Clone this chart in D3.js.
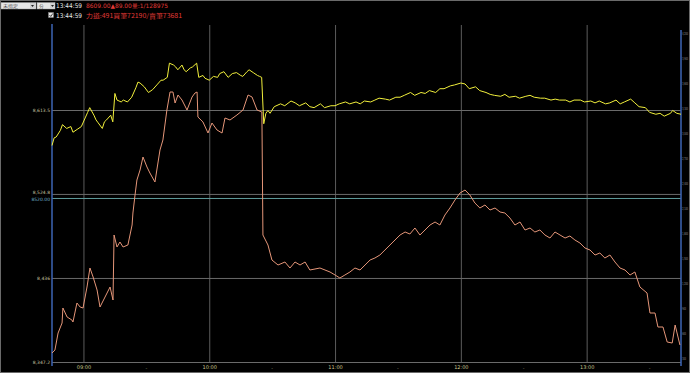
<!DOCTYPE html>
<html>
<head>
<meta charset="utf-8">
<script src="https://cdn.jsdelivr.net/npm/d3@7"></script>
<style>
  body { margin: 0; background: #000; overflow: hidden; }
  svg { display: block; }
</style>
</head>
<body>
<script>
const w = 690
const h = 373

// minutes after 08:45 and futures price (yellow line, left axis)
const priceMin = [0,1,2,4,5,7,9,10,12,14,16,17,18,20,21,22,24,25,26,28,29,30,31,32,33,34,36,38,40,41,
  42,44,46,48,50,52,53,55,56,58,59,60,62,63,64,66,67,69,70,72,73,75,77,79,80,82,84,86,88,90,
  91,93,94,96,98,99,100,101,102,103,104,106,109,111,114,116,118,121,123,125,128,130,133,135,137,140,142,145,147,149,
  152,154,156,159,161,164,166,168,171,173,176,178,180,183,185,187,190,192,195,197,199,202,204,207,209,211,214,216,218,221,
  223,226,228,230,233,235,238,240,242,245,247,249,252,254,257,259,261,264,266,269,271,273,276,278,280,283,285,288,290,292,
  295,296,298,300]
const price = [8576,8584,8585,8592,8598,8594,8596,8590,8593,8596,8606,8611,8616,8608,8603,8600,8594,8601,8603,8608,
  8601,8631,8624,8623,8622,8624,8622,8627,8637,8643,8642,8638,8632,8635,8640,8645,8645,8648,8663,8661,
  8659,8656,8661,8656,8654,8658,8659,8663,8648,8650,8647,8645,8649,8648,8652,8654,8648,8652,8653,8650,
  8649,8654,8656,8653,8650,8649,8648,8599,8610,8613,8610,8617,8620,8618,8623,8621,8618,8621,8617,8616,
  8620,8616,8618,8618,8620,8622,8620,8622,8620,8623,8622,8624,8626,8625,8624,8627,8627,8629,8632,8629,
  8632,8631,8634,8632,8636,8636,8639,8640,8642,8641,8636,8638,8634,8632,8630,8629,8628,8630,8627,8628,
  8626,8628,8629,8627,8626,8626,8624,8625,8624,8624,8622,8624,8624,8622,8623,8621,8623,8620,8621,8624,
  8620,8622,8625,8621,8617,8616,8611,8609,8610,8607,8610,8613,8610,8609]

// minutes after 08:45 and force value (salmon line, right axis)
const forceMin = [0,1.4,2.9,4.8,5.2,7.2,9.5,10,11.9,13.4,14.8,16.7,18.1,19.6,21.5,22.9,25.3,27.7,29.1,29.6,
  31,32.4,33.9,36.2,38.2,38.6,39.6,40.5,42,43.4,45.3,46.7,49.1,51.5,52.9,54.8,56.3,57.7,58.7,60.1,
  62,64.4,66.8,68.2,69.2,69.6,72,74.4,76.3,78.7,81.1,82.5,84.9,88.2,91.1,93.5,95.4,97.8,100.1,100.6,
  103,104.9,107.8,111.1,113.5,115.9,118.3,120.7,123,127.8,132.6,135,137.3,139.7,142.1,144.5,146.9,149.3,151.7,154,
  156.4,158.8,161.2,163.6,166,168.4,170.7,173.1,175.5,177.9,180.3,182.7,185,187.4,189.8,192.2,194.6,197,199.3,201.7,
  204.1,206.5,208.9,211.3,213.7,216,218.4,220.8,223.2,225.6,228,230.3,232.7,235.1,237.5,239.9,242.3,244.7,247,249.4,
  251.8,254.2,256.6,259,261.3,263.7,266.1,268.5,270.9,273.3,275.7,278,280.4,283.8,285.2,287.6,289,291.4,293.4,295.8,
  297.2,298,299.5]
const force = [360,396,600,720,900,792,756,732,960,912,900,1152,1380,1272,1116,912,1032,1152,996,1776,
  1632,1692,1632,1656,1896,2040,2256,2436,2556,2712,2592,2520,2412,2796,2916,3276,3492,3492,3360,3456,
  3396,3276,3432,3480,3492,3192,3132,3000,3120,3036,3000,3180,3156,3216,3276,3456,3432,3276,3252,1776,
  1656,1476,1416,1452,1380,1452,1416,1452,1356,1380,1332,1296,1260,1296,1332,1380,1356,1416,1476,1500,
  1536,1596,1656,1716,1776,1812,1788,1860,1776,1836,1896,1932,1896,2016,2100,2196,2280,2316,2256,2160,
  2100,2136,2076,2100,2052,2040,1980,1896,1932,1836,1860,1812,1836,1776,1740,1812,1776,1740,1764,1716,
  1680,1620,1596,1536,1560,1500,1536,1452,1380,1356,1296,1332,1152,1080,840,840,672,672,492,480,
  696,612,456]

const leftTicks = [8613.5, 8524.8, 8436.0, 8347.2]
const leftLabels = ['8,613.5', '8,524.8', '8,436', '8,347.2']
const refPrice = 8520
const refLabel = '8520.00'
const rightTicks = [4200, 3900, 3600, 3300, 3000, 2700, 2400, 2100, 1800, 1500, 1200, 900, 600, 300]
const hourTicks = ['09:00', '10:00', '11:00', '12:00', '13:00']
const halfTicks = ['09:30', '10:30', '11:30', '12:30', '13:30']
const sessionStart = '08:45'
const sessionEnd = '13:45'

const headTime = '13:44:59'
const headQuote = '8609.00▲89.00量:1/128975'
const headForce = '力道:491買筆72190/賣筆73681'

const toDate = s => { const [H, M] = s.split(':'); return new Date(2020, 0, 2, +H, +M) }
const t0 = toDate(sessionStart)
const byMin = m => new Date(t0.getTime() + m * 60000)

const pl = 52, pr = 681, pt = 25, pb = 362
const font = '"DejaVu Sans", sans-serif'

const x = d3.scaleTime().domain([t0, toDate(sessionEnd)]).range([pl, pr])
const yL = d3.scaleLinear().domain([8347.2, 8613.5]).range([pb, 110])
const yR = d3.scaleLinear().domain([300, 4200]).range([358, 33])

const svg = d3.select('body').append('svg').attr('width', w).attr('height', h)
svg.append('rect').attr('width', w).attr('height', h).attr('fill', '#000')

// time axis + vertical grid
const bAxis = d3.axisBottom(x).tickValues(hourTicks.map(toDate))
  .tickFormat(d3.timeFormat('%H:%M')).tickSize(-(pb - pt)).tickPadding(3)
const gb = svg.append('g').attr('transform', 'translate(0,' + pb + ')').call(bAxis)
gb.select('.domain').remove()
gb.selectAll('line').attr('stroke', '#5c5c5c')
gb.selectAll('text').attr('fill', '#c9c58e').style('font', '5px ' + font)

svg.append('g').selectAll('text').data(halfTicks).enter().append('text')
  .attr('x', d => x(toDate(d))).attr('y', 369.5).attr('text-anchor', 'middle')
  .attr('fill', '#8a8a70').style('font', '5px ' + font).text('-')

// price axis + horizontal grid
const lAxis = d3.axisLeft(yL).tickValues(leftTicks)
  .tickFormat((d, i) => leftLabels[i]).tickSize(-(pr - pl)).tickPadding(2)
const gl = svg.append('g').attr('transform', 'translate(' + pl + ',0)').call(lAxis)
gl.select('.domain').remove()
gl.selectAll('line').attr('stroke', '#6a6a6a')
gl.selectAll('text').attr('fill', '#c8c6a0').style('font', '4.5px ' + font)
gl.selectAll('.tick text').filter((d, i) => i === 1).attr('dy', '-0.1em')

// reference price
svg.append('line').attr('x1', pl).attr('x2', pr)
  .attr('y1', yL(refPrice)).attr('y2', yL(refPrice)).attr('stroke', '#5f9c9c')
svg.append('text').attr('x', pl - 2).attr('y', yL(refPrice) + 2.2).attr('text-anchor', 'end')
  .attr('fill', '#6fb0c8').style('font', '4.5px ' + font).text(refLabel)

// right axis (labels squeezed into the narrow strip)
const rAxis = d3.axisRight(yR).tickValues(rightTicks).tickSize(0).tickPadding(0)
const gr = svg.append('g').attr('transform', 'translate(' + pr + ',0)').call(rAxis)
gr.select('.domain').remove()
gr.selectAll('text').attr('x', 0).attr('fill', '#9a9a9a').style('font', '4px ' + font)
  .attr('transform', 'translate(1.3,0) scale(0.5,1)')

// axis bars
svg.append('line').attr('x1', pl).attr('x2', pl).attr('y1', 24).attr('y2', 366)
  .attr('stroke', '#3c64b4').attr('stroke-width', 1.5)
svg.append('line').attr('x1', pr).attr('x2', pr).attr('y1', 30).attr('y2', 366)
  .attr('stroke', '#3c64b4').attr('stroke-width', 1.5)

// series
const forceLine = d3.line().x((d, i) => x(byMin(forceMin[i]))).y(d => yR(d))
svg.append('path').datum(force).attr('d', forceLine)
  .attr('fill', 'none').attr('stroke', '#e59679').attr('stroke-width', 1)

const priceLine = d3.line().x((d, i) => x(byMin(priceMin[i]))).y(d => yL(d))
svg.append('path').datum(price).attr('d', priceLine)
  .attr('fill', 'none').attr('stroke', '#f2f03c').attr('stroke-width', 1)

// header bar
const head = svg.append('g')
head.append('rect').attr('x', 1).attr('y', 2.5).attr('width', 35).attr('height', 6.5)
  .attr('fill', '#e6e6e6').attr('stroke', '#9a9a9a').attr('stroke-width', 0.5)
head.append('text').attr('x', 3).attr('y', 7.6).attr('fill', '#444').style('font', '4.5px ' + font).text('未指定')
head.append('rect').attr('x', 37).attr('y', 2.5).attr('width', 18).attr('height', 6.5)
  .attr('fill', '#e6e6e6').attr('stroke', '#9a9a9a').attr('stroke-width', 0.5)
head.append('text').attr('x', 39).attr('y', 7.6).attr('fill', '#444').style('font', '4.5px ' + font).text('分')
;[30, 50].forEach(bx => {
  head.append('rect').attr('x', bx).attr('y', 3).attr('width', 5).attr('height', 5.5).attr('fill', '#d0d0d0')
  head.append('path').attr('d', `M${bx + 1},5 L${bx + 4},5 L${bx + 2.5},7 Z`).attr('fill', '#222')
})
head.append('text').attr('x', 56).attr('y', 8.4).attr('fill', '#e8e8e8')
  .attr('textLength', 26).attr('lengthAdjust', 'spacingAndGlyphs').style('font', '6.5px ' + font).text(headTime)
head.append('text').attr('x', 86).attr('y', 8.4).attr('fill', '#e23a36')
  .attr('textLength', 82).attr('lengthAdjust', 'spacingAndGlyphs').style('font', '6px ' + font).text(headQuote)

head.append('rect').attr('x', 48.5).attr('y', 12.5).attr('width', 5).attr('height', 5)
  .attr('fill', '#e6e6e6').attr('stroke', '#888').attr('stroke-width', 0.4)
head.append('path').attr('d', 'M49.5,15 L50.8,16.5 L52.8,13.5').attr('fill', 'none').attr('stroke', '#222').attr('stroke-width', 0.8)
head.append('text').attr('x', 56).attr('y', 18.2).attr('fill', '#e8e8e8')
  .attr('textLength', 26).attr('lengthAdjust', 'spacingAndGlyphs').style('font', '6.5px ' + font).text(headTime)
head.append('text').attr('x', 86).attr('y', 18.2).attr('fill', '#e23a36')
  .attr('textLength', 96).attr('lengthAdjust', 'spacingAndGlyphs').style('font', '6px "Noto Sans CJK TC", ' + font).text(headForce)

// frame
svg.append('rect').attr('x', 0.5).attr('y', 0.5).attr('width', w - 1).attr('height', h - 1)
  .attr('fill', 'none').attr('stroke', '#6a6a6a')
</script>
</body>
</html>
